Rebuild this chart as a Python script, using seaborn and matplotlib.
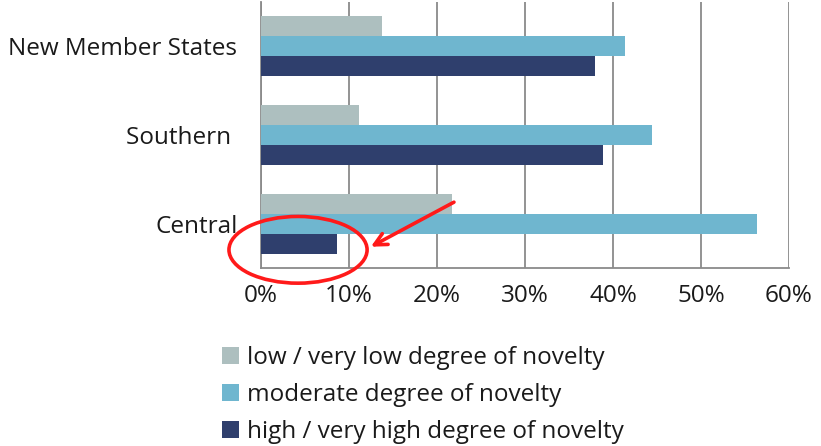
#!/usr/bin/env python3
"""
Degree of novelty by region - grouped horizontal bars
"""
import pandas as pd
import seaborn as sns
import matplotlib.pyplot as plt
from matplotlib.patches import Ellipse
from matplotlib.ticker import PercentFormatter, FixedLocator

regions = ["New Member States", "Southern ", "Central"]
series = [
    "low / very low degree of novelty",
    "moderate degree of novelty",
    "high / very high degree of novelty",
]
low_values = [13.8, 11.1, 21.7]
moderate_values = [41.4, 44.4, 56.4]
high_values = [37.9, 38.9, 8.6]
colors = ["#adbfbf", "#6fb6cf", "#2f3f6d"]

rows = []
for name, vals in zip(series, [low_values, moderate_values, high_values]):
    for region, v in zip(regions, vals):
        rows.append({"region": region, "series": name, "value": v})
df = pd.DataFrame(rows)

sns.set_style("white")
plt.rcParams["font.family"] = ["Open Sans", "DejaVu Sans"]
plt.rcParams["text.color"] = "#1a1a1a"

fig = plt.figure(figsize=(8.21, 4.46), dpi=100)
ax = fig.add_axes([0.318, 0.398, 0.643, 0.5986])

sns.barplot(
    data=df, y="region", x="value", hue="series",
    order=regions, hue_order=series, palette=colors,
    orient="h", width=0.68, saturation=1, errorbar=None,
    edgecolor="none", ax=ax, zorder=3, legend=True
)

ax.set_xlim(0, 60)
ax.set_ylim(2.5, -0.5)
ax.set_xticks(range(0, 70, 10))
ax.xaxis.set_major_formatter(PercentFormatter(decimals=0))
ax.grid(axis="x", color="#8a8a8a", lw=1.3, zorder=0)
ax.set_axisbelow(True)
ax.set_xlabel("")
ax.set_ylabel("")

for side in ["top", "right"]:
    ax.spines[side].set_visible(False)
for side in ["left", "bottom"]:
    ax.spines[side].set_color("#8a8a8a")
    ax.spines[side].set_linewidth(1.3)

ax.tick_params(axis="x", length=0, pad=11, labelsize=17.5, colors="#1a1a1a")
ax.tick_params(axis="y", which="major", length=0, pad=17, labelsize=17.5,
               colors="#1a1a1a")
ax.yaxis.set_minor_locator(FixedLocator([-0.5, 0.5, 1.5, 2.5]))
ax.tick_params(axis="y", which="minor", length=5, width=1.3, color="#8a8a8a")

# legend below the chart
handles, labels = ax.get_legend_handles_labels()
ax.get_legend().remove()
fig.legend(
    handles, labels, loc="upper left", bbox_to_anchor=(0.259, 0.246),
    frameon=False, fontsize=17.5, handlelength=0.7, handleheight=0.7,
    handletextpad=0.3, labelspacing=0.53, borderaxespad=0
)

# red highlight around the Central high-novelty bar
ell = Ellipse((4.2, 2.29), width=15.7, height=0.75, fill=False,
              edgecolor="#ff1a1a", lw=2.6, clip_on=False, zorder=5)
ax.add_patch(ell)
ax.annotate(
    "", xy=(12.2, 2.27), xytext=(22.2, 1.74),
    arrowprops=dict(arrowstyle="->", color="#ff1a1a", lw=2.6,
                    mutation_scale=22),
    annotation_clip=False, zorder=6
)

plt.savefig("out.png", dpi=100)
